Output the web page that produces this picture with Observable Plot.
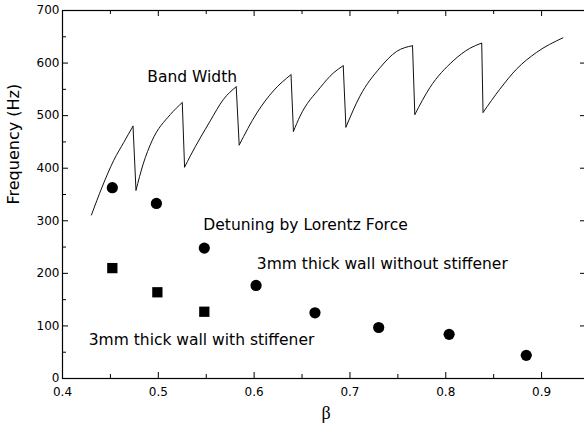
<!DOCTYPE html>
<html><head><meta charset="utf-8">
<script src="https://cdn.jsdelivr.net/npm/d3@7"></script>
<script src="https://cdn.jsdelivr.net/npm/@observablehq/plot@0.6"></script>
<style>
html,body{margin:0;padding:0;background:#fff;overflow:hidden;}
</style>
</head><body><div id="chart"></div>
<script>
// Band width sawtooth curve (beta, Hz), one branch per segment
const bandSeg = [1,1,1,1,1, 2,2,2,2,2, 3,3,3,3,3, 4,4,4,4, 5,5,5,5,5, 6,6,6,6,6, 7,7,7,7,7, 8,8,8,8,8];
const bandBeta = [0.4302,0.4413,0.4535,0.4639,0.4736,
  0.4767,0.4842,0.4934,0.5125,0.525,
  0.5274,0.5333,0.5542,0.568,0.5813,
  0.5844,0.6028,0.620,0.6385,
  0.641,0.6479,0.6688,0.6826,0.693,
  0.6958,0.7104,0.7313,0.7486,0.7653,
  0.7677,0.7833,0.8076,0.825,0.8375,
  0.8389,0.8563,0.8736,0.8945,0.9222];
const bandHz = [311,364,415,449,480,
  358,408,452,502,525,
  402,423,490,531,555,
  444,505,547,578,
  470,499,553,581,595,
  478,537,591,622,633,
  502,553,604,628,638,
  506,550,588,620,648];
// Detuning by Lorentz force
const withoutBeta = [0.452,0.498,0.548,0.602,0.6635,0.730,0.8035,0.884];
const withoutHz = [363,333,248,177,125,97,84,44];
const withBeta = [0.452,0.499,0.548];
const withHz = [210,164,127];
// ticks
const yTicks = [0,100,200,300,400,500,600,700];
const yMinor = [50,150,250,350,450,550,650];
const xTicks = [0.4,0.5,0.6,0.7,0.8,0.9];
const xMinor = [0.45,0.55,0.65,0.75,0.85,0.95];
// annotations
const noteText = ["Band Width","Detuning by Lorentz Force","3mm thick wall without stiffener","3mm thick wall with stiffener"];
const noteBeta = [0.4885,0.547,0.6028,0.4274];
const noteHz = [574,291,218,74];
const yTitle = "Frequency (Hz)";
const xTitle = "β";

const W=584,H=430,mL=62,mR=-5,mT=10,mB=52;
const hzPx = 700/(H-mT-mB), bPx = 0.55/(W-mL-mR);
const band = bandBeta.map((b,i)=>({b,h:bandHz[i],s:bandSeg[i]}));
// vertical drops: end of one branch to start of the next
const drops = [];
for (let i=1;i<band.length;i++) if (band[i].s!==band[i-1].s) drops.push({b1:band[i-1].b,h1:band[i-1].h,b2:band[i].b,h2:band[i].h});
const without = withoutBeta.map((b,i)=>({b,h:withoutHz[i]}));
const withS = withBeta.map((b,i)=>({b,h:withHz[i]}));
const notes = noteText.map((t,i)=>({t,b:noteBeta[i],h:noteHz[i]}));

function xt(vals,len){return [
  Plot.ruleX(vals,{x:d=>d,y1:0,y2:len*hzPx,stroke:"#000",strokeWidth:1}),
  Plot.ruleX(vals,{x:d=>d,y1:700,y2:700-len*hzPx,stroke:"#000",strokeWidth:1})];}
function yt(vals,len,rlen){return [
  Plot.ruleY(vals,{y:d=>d,x1:0.4,x2:0.4+len*bPx,stroke:"#000",strokeWidth:1}),
  Plot.ruleY(vals,{y:d=>d,x1:0.95,x2:0.95-rlen*bPx,stroke:"#000",strokeWidth:1})];}

const chart = Plot.plot({
  width:W,height:H,marginLeft:mL,marginRight:mR,marginTop:mT,marginBottom:mB,
  style:{fontFamily:"'DejaVu Sans', sans-serif",fontSize:"12px",color:"#000",background:"#fff"},
  x:{domain:[0.4,0.95]},
  y:{domain:[0,700]},
  marks:[
    Plot.axisX(xTicks,{tickSize:0,tickPadding:9,tickFormat:d=>d.toFixed(1),fontSize:12,label:null}),
    Plot.axisY(yTicks,{tickSize:0,tickPadding:3,tickFormat:d=>String(d),fontSize:12,label:null}),
    ...xt(xTicks,6),...xt(xMinor,4),
    ...yt(yTicks,6,9),...yt(yMinor,4,4),
    Plot.frame({stroke:"#000",strokeWidth:1.2}),
    Plot.line(band,{x:"b",y:"h",z:"s",stroke:"#111",strokeWidth:1,curve:"monotone-x"}),
    Plot.link(drops,{x1:"b1",y1:"h1",x2:"b2",y2:"h2",stroke:"#111",strokeWidth:1}),
    Plot.dot(without,{x:"b",y:"h",r:5.6,fill:"#000",symbol:"circle"}),
    Plot.dot(withS,{x:"b",y:"h",r:5.8,fill:"#000",symbol:"square"}),
    Plot.text(notes,{x:"b",y:"h",text:"t",textAnchor:"start",fontSize:15.5,fill:"#000"}),
    Plot.text([{t:yTitle,h:331}],{y:"h",text:"t",frameAnchor:"left",dx:-48.5,rotate:-90,fontSize:16,fill:"#000"}),
    Plot.text([{t:xTitle,b:0.675}],{x:"b",text:"t",frameAnchor:"bottom",dy:40,fontSize:18,fontFamily:"'Liberation Serif', serif",fill:"#000"})
  ]
});
document.getElementById("chart").appendChild(chart);
</script>
</body></html>
